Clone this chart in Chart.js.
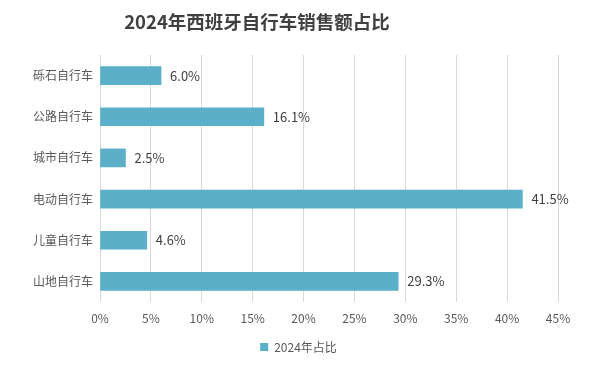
<!DOCTYPE html>
<html>
<head>
<meta charset="utf-8">
<script src="https://cdn.jsdelivr.net/npm/chart.js@4/dist/chart.umd.min.js"></script>
<style>
  html, body { margin: 0; padding: 0; background: #fff; }
  #wrap { width: 597px; height: 366px; position: relative; }
</style>
</head>
<body>
<div id="wrap"><canvas id="chart" width="597" height="366"></canvas></div>
<script>
'use strict';

const titleText = '2024年西班牙自行车销售额占比';
const seriesName = '2024年占比';
const categories = ['砾石自行车', '公路自行车', '城市自行车', '电动自行车', '儿童自行车', '山地自行车'];
const shares = [6.0, 16.1, 2.5, 41.5, 4.6, 29.3];
const xTicks = [0, 5, 10, 15, 20, 25, 30, 35, 40, 45];

const FONT = '"Noto Sans CJK SC", "Noto Sans", sans-serif';
const barColor = '#5BAFC9';

// Title drawn left of centre, like the original
const titlePlugin = {
	id: 'titleText',
	afterDraw(chart) {
		const ctx = chart.ctx;
		ctx.save();
		ctx.font = 'bold 18.5px ' + FONT;
		ctx.fillStyle = '#404040';
		ctx.textAlign = 'center';
		ctx.textBaseline = 'middle';
		ctx.fillText(titleText, 257, 22);
		ctx.restore();
	}
};

// Value labels at the end of each bar
const valueLabels = {
	id: 'valueLabels',
	afterDatasetsDraw(chart) {
		const ctx = chart.ctx;
		const meta = chart.getDatasetMeta(0);
		ctx.save();
		ctx.font = '13px ' + FONT;
		ctx.fillStyle = '#404040';
		ctx.textAlign = 'left';
		ctx.textBaseline = 'middle';
		meta.data.forEach(function (bar, i) {
			ctx.fillText(shares[i].toFixed(1) + '%', bar.x + 9, bar.y);
		});
		ctx.restore();
	}
};

// legend centred on the whole canvas, not on the padded area
const legendCentre = {
	id: 'legendCentre',
	afterLayout(chart) {
		chart.legend.left = 0;
		chart.legend.right = chart.width;
		chart.legend.width = chart.width;
	}
};

new Chart(document.getElementById('chart'), {
	type: 'bar',
	data: {
		labels: categories,
		datasets: [
			{
				label: seriesName,
				data: shares,
				backgroundColor: barColor,
				borderWidth: 0,
				barThickness: 18
			}
		]
	},
	options: {
		indexAxis: 'y',
		responsive: false,
		animation: false,
		layout: {
			padding: { top: 55, right: 39, bottom: 3, left: 0 }
		},
		scales: {
			x: {
				min: 0,
				max: 45,
				afterBuildTicks(scale) {
					scale.ticks = xTicks.map(v => ({ value: v }));
				},
				afterFit(scale) {
					scale.height = 29;
				},
				grid: { color: '#d9d9d9', drawTicks: false },
				border: { display: false },
				ticks: {
					padding: 9,
					color: '#595959',
					font: { size: 12, family: FONT },
					callback: v => v + '%'
				}
			},
			y: {
				afterFit(scale) {
					scale.width = 100;
				},
				grid: { display: false, drawTicks: false },
				border: { display: false },
				ticks: {
					padding: 7,
					color: '#595959',
					font: { size: 12, family: FONT }
				}
			}
		},
		plugins: {
			title: { display: false },
			tooltip: { enabled: false },
			legend: {
				position: 'bottom',
				labels: {
					boxWidth: 8,
					boxHeight: 8,
					color: '#595959',
					font: { size: 12, family: FONT }
				}
			}
		}
	},
	plugins: [titlePlugin, valueLabels, legendCentre]
});
</script>
</body>
</html>
